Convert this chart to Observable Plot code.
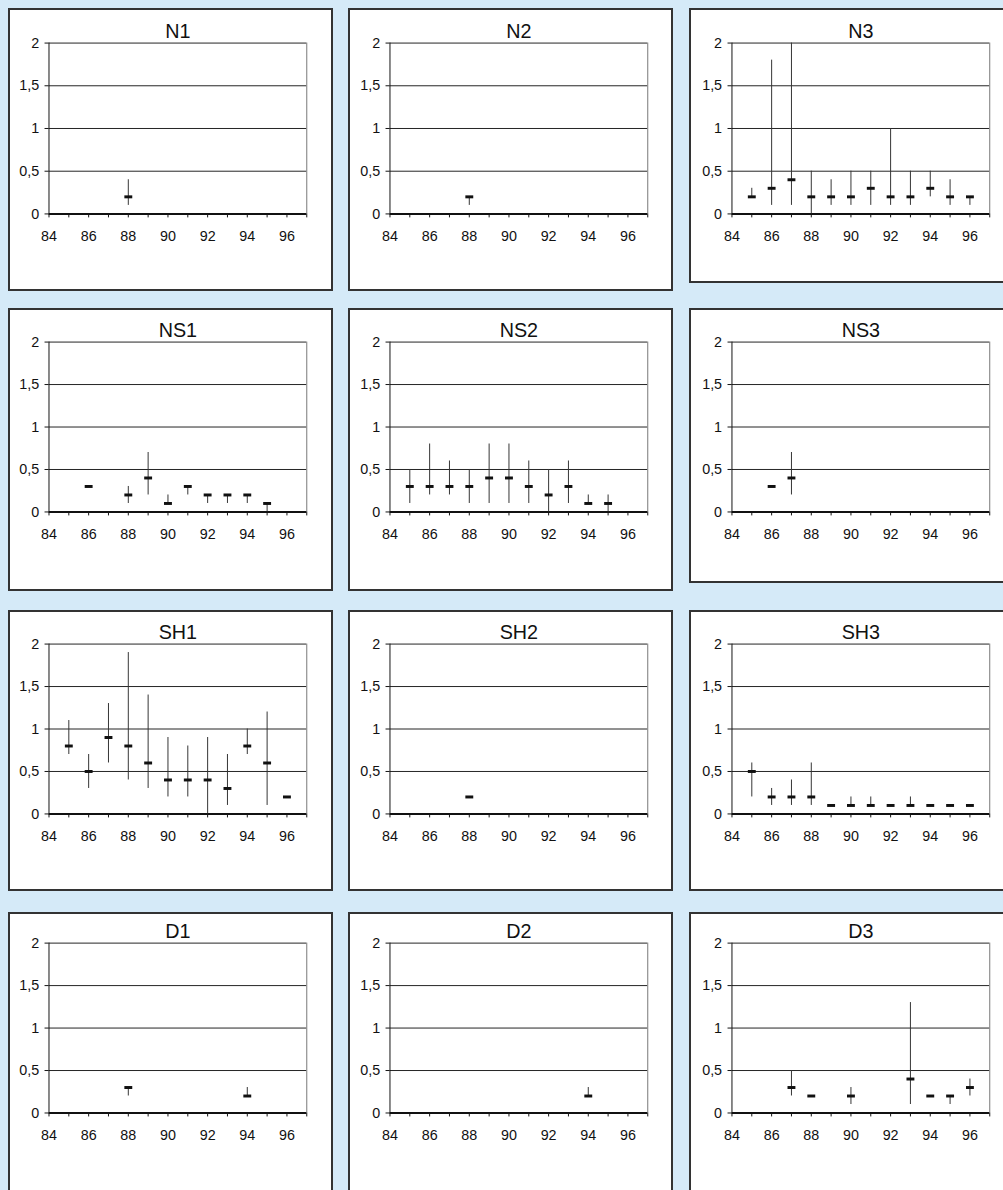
<!DOCTYPE html>
<html>
<head>
<meta charset="utf-8">
<script src="https://cdn.jsdelivr.net/npm/d3@7"></script>
<script src="https://cdn.jsdelivr.net/npm/@observablehq/plot@0.6"></script>
<style>
  html, body { margin: 0; padding: 0; }
  body { width: 1003px; height: 1190px; overflow: hidden; background: #d5eaf8; position: relative;
         font-family: "Liberation Sans", Arial, sans-serif; }
  .box { position: absolute; box-sizing: border-box; width: 325px; background: #fff;
         border: 2px solid #333; overflow: hidden; }
  .box svg { position: absolute; left: -2px; top: -2px; background: transparent; }
  .box svg text { font-size: 14.5px; font-family: "Liberation Sans", Arial, sans-serif; fill: #111; }
  .box svg .ptitle text { font-size: 20px; }
</style>
</head>
<body>
<script>
// ---- data: year, mean, low, high per panel ----
const panelNames = ["N1", "N2", "N3", "NS1", "NS2", "NS3", "SH1", "SH2", "SH3", "D1", "D2", "D3"];

const N1_year = [88];            const N1_mean = [0.2];  const N1_low = [0.1];  const N1_high = [0.4];
const N2_year = [88];            const N2_mean = [0.2];  const N2_low = [0.1];  const N2_high = [0.2];
const N3_year = [85, 86, 87, 88, 89, 90, 91, 92, 93, 94, 95, 96];
const N3_mean = [0.2, 0.3, 0.4, 0.2, 0.2, 0.2, 0.3, 0.2, 0.2, 0.3, 0.2, 0.2];
const N3_low  = [0.2, 0.1, 0.1, 0.0, 0.1, 0.1, 0.1, 0.1, 0.1, 0.2, 0.1, 0.1];
const N3_high = [0.3, 1.8, 2.0, 0.5, 0.4, 0.5, 0.5, 1.0, 0.5, 0.5, 0.4, 0.2];

const NS1_year = [86, 88, 89, 90, 91, 92, 93, 94, 95];
const NS1_mean = [0.3, 0.2, 0.4, 0.1, 0.3, 0.2, 0.2, 0.2, 0.1];
const NS1_low  = [0.3, 0.1, 0.2, 0.1, 0.2, 0.1, 0.1, 0.1, 0.0];
const NS1_high = [0.3, 0.3, 0.7, 0.2, 0.3, 0.2, 0.2, 0.2, 0.1];
const NS2_year = [85, 86, 87, 88, 89, 90, 91, 92, 93, 94, 95];
const NS2_mean = [0.3, 0.3, 0.3, 0.3, 0.4, 0.4, 0.3, 0.2, 0.3, 0.1, 0.1];
const NS2_low  = [0.1, 0.2, 0.2, 0.1, 0.1, 0.1, 0.1, 0.0, 0.1, 0.1, 0.0];
const NS2_high = [0.5, 0.8, 0.6, 0.5, 0.8, 0.8, 0.6, 0.5, 0.6, 0.2, 0.2];
const NS3_year = [86, 87];       const NS3_mean = [0.3, 0.4]; const NS3_low = [0.3, 0.2]; const NS3_high = [0.3, 0.7];

const SH1_year = [85, 86, 87, 88, 89, 90, 91, 92, 93, 94, 95, 96];
const SH1_mean = [0.8, 0.5, 0.9, 0.8, 0.6, 0.4, 0.4, 0.4, 0.3, 0.8, 0.6, 0.2];
const SH1_low  = [0.7, 0.3, 0.6, 0.4, 0.3, 0.2, 0.2, 0.0, 0.1, 0.7, 0.1, 0.2];
const SH1_high = [1.1, 0.7, 1.3, 1.9, 1.4, 0.9, 0.8, 0.9, 0.7, 1.0, 1.2, 0.2];
const SH2_year = [88];           const SH2_mean = [0.2]; const SH2_low = [0.2]; const SH2_high = [0.2];
const SH3_year = [85, 86, 87, 88, 89, 90, 91, 92, 93, 94, 95, 96];
const SH3_mean = [0.5, 0.2, 0.2, 0.2, 0.1, 0.1, 0.1, 0.1, 0.1, 0.1, 0.1, 0.1];
const SH3_low  = [0.2, 0.1, 0.1, 0.1, 0.1, 0.1, 0.1, 0.1, 0.1, 0.1, 0.1, 0.1];
const SH3_high = [0.6, 0.3, 0.4, 0.6, 0.1, 0.2, 0.2, 0.1, 0.2, 0.1, 0.1, 0.1];

const D1_year = [88, 94];        const D1_mean = [0.3, 0.2]; const D1_low = [0.2, 0.2]; const D1_high = [0.3, 0.3];
const D2_year = [94];            const D2_mean = [0.2];      const D2_low = [0.2];      const D2_high = [0.3];
const D3_year = [87, 88, 90, 93, 94, 95, 96];
const D3_mean = [0.3, 0.2, 0.2, 0.4, 0.2, 0.2, 0.3];
const D3_low  = [0.2, 0.2, 0.1, 0.1, 0.2, 0.1, 0.2];
const D3_high = [0.5, 0.2, 0.3, 1.3, 0.2, 0.2, 0.4];

// ---- axes ----
const xDomain = [84, 97];
const xTickValues = [84, 85, 86, 87, 88, 89, 90, 91, 92, 93, 94, 95, 96, 97];
const xTickLabels = ["84", "", "86", "", "88", "", "90", "", "92", "", "94", "", "96", ""];
const yTickValues = [0, 0.5, 1, 1.5, 2];
const yTickLabels = ["0", "0,5", "1", "1,5", "2"];
const yGridValues = [0.5, 1, 1.5, 2];

const series = {
  N1: [N1_year, N1_mean, N1_low, N1_high], N2: [N2_year, N2_mean, N2_low, N2_high], N3: [N3_year, N3_mean, N3_low, N3_high],
  NS1: [NS1_year, NS1_mean, NS1_low, NS1_high], NS2: [NS2_year, NS2_mean, NS2_low, NS2_high], NS3: [NS3_year, NS3_mean, NS3_low, NS3_high],
  SH1: [SH1_year, SH1_mean, SH1_low, SH1_high], SH2: [SH2_year, SH2_mean, SH2_low, SH2_high], SH3: [SH3_year, SH3_mean, SH3_low, SH3_high],
  D1: [D1_year, D1_mean, D1_low, D1_high], D2: [D2_year, D2_mean, D2_low, D2_high], D3: [D3_year, D3_mean, D3_low, D3_high]
};

// ---- layout ----
const colLeft = [8, 348, 689];
const rowTop = [8, 308, 610, 912];
const rowMarginTop = [35, 34, 34, 31];
const rowPlotH = [173, 172, 172, 172];
const boxH = [[283, 283, 275], [283, 283, 275], [281, 281, 281], [278, 278, 278]];
const colMarginLeft = [41, 42, 43];

const dash = { draw(ctx) { ctx.rect(-4, -1.5, 8, 3); } };

panelNames.forEach((name, i) => {
  const r = Math.floor(i / 3), c = i % 3;
  const [yr, mn, lo, hi] = series[name];
  const rows = yr.map((y, k) => ({ year: y, mean: mn[k], low: lo[k], high: hi[k] }));
  const mt = rowMarginTop[r], ph = rowPlotH[r];
  const H = boxH[r][c];
  const chart = Plot.plot({
    width: 325, height: H,
    marginTop: mt, marginBottom: H - mt - ph, marginLeft: colMarginLeft[c], marginRight: 325 - colMarginLeft[c] - 261,
    style: { fontFamily: "'Liberation Sans', Arial, sans-serif", fontSize: "14.5px", color: "#111", background: "transparent" },
    x: { domain: xDomain, label: null },
    y: { domain: [0, 2], label: null },
    marks: [
      Plot.ruleY(yGridValues, { stroke: "#222", strokeWidth: 1 }),
      Plot.ruleX([xDomain[1]], { stroke: "#777", strokeWidth: 1 }),
      Plot.axisY({ ticks: yTickValues, tickFormat: d => yTickLabels[yTickValues.indexOf(d)], tickSize: 4, tickPadding: 6, stroke: "#111", label: null }),
      Plot.ruleX([xDomain[0]], { stroke: "#111", strokeWidth: 1 }),
      Plot.axisX({ ticks: xTickValues, tickFormat: d => xTickLabels[xTickValues.indexOf(d)], tickSize: 4, tickPadding: 13, stroke: "#111", label: null }),
      Plot.ruleY([0], { stroke: "#111", strokeWidth: 2 }),
      Plot.ruleX(rows, { x: "year", y1: "low", y2: "high", stroke: "#333", strokeWidth: 1 }),
      Plot.dot(rows, { x: "year", y: "mean", symbol: dash, fill: "#111", stroke: "none" }),
      Plot.text([name], { frameAnchor: "top", dy: -12, fill: "#111", lineAnchor: "middle", className: "ptitle" })
    ]
  });
  const box = document.createElement("div");
  box.className = "box";
  box.style.left = colLeft[c] + "px";
  box.style.top = rowTop[r] + "px";
  box.style.height = (r === 3 ? 300 : boxH[r][c]) + "px";
  box.appendChild(chart);
  document.body.appendChild(box);
});
</script>
</body>
</html>
